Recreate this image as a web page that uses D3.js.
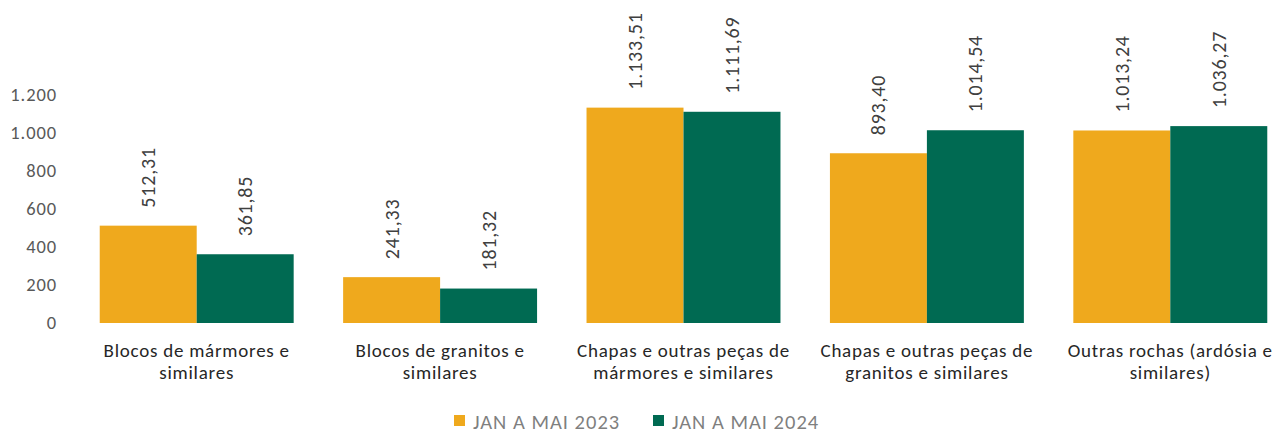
<!DOCTYPE html>
<html>
<head>
<meta charset="utf-8">
<script src="https://cdn.jsdelivr.net/npm/d3@7"></script>
<style>
body { margin: 0; background: #fff; }
text { font-family: Carlito, Lato, "Open Sans", sans-serif; }
</style>
</head>
<body>
<script>
var width = 1288, height = 433;

var categories = [
  "Blocos de mármores e\nsimilares",
  "Blocos de granitos e\nsimilares",
  "Chapas e outras peças de\nmármores e similares",
  "Chapas e outras peças de\ngranitos e similares",
  "Outras rochas (ardósia e\nsimilares)"
];
var seriesNames = ["JAN A MAI 2023", "JAN A MAI 2024"];
var values2023 = [512.31, 241.33, 1133.51, 893.40, 1013.24];
var values2024 = [361.85, 181.32, 1111.69, 1014.54, 1036.27];
var yTicks = [0, 200, 400, 600, 800, 1000, 1200];
var colors = ["#EFA91D", "#006A52"];

var ptBR = d3.formatLocale({decimal: ",", thousands: ".", grouping: [3], currency: ["R$", ""]});
var fmtTick = ptBR.format(",.0f");
var fmtVal = ptBR.format(",.2f");

var svg = d3.select("body").append("svg")
  .attr("width", width)
  .attr("height", height);

var x0 = d3.scaleBand().domain(categories).range([75, 1292]).paddingInner(0).paddingOuter(0);
var x1 = d3.scaleBand().domain(seriesNames).range([0, x0.bandwidth()]).paddingInner(0).paddingOuter(0.255);
var y = d3.scaleLinear().domain([0, 1200]).range([323, 95]);

// y axis (labels only)
var yAxis = svg.append("g")
  .attr("transform", "translate(57,0)")
  .call(d3.axisLeft(y).tickValues(yTicks).tickFormat(fmtTick).tickSize(0).tickPadding(0));
yAxis.select(".domain").remove();
yAxis.selectAll("text")
  .attr("fill", "#595959")
  .style("font-size", "18.5px")
  .style("letter-spacing", "0.9px")
  .style("font-family", "Carlito, Lato, sans-serif");

var data = categories.map(function(c, i) {
  return {cat: c, vals: [values2023[i], values2024[i]]};
});

var groups = svg.selectAll("g.grp")
  .data(data).enter()
  .append("g")
  .attr("class", "grp")
  .attr("transform", function(d) { return "translate(" + x0(d.cat) + ",0)"; });

groups.selectAll("rect")
  .data(function(d) { return d.vals.map(function(v, j) { return {s: seriesNames[j], v: v, j: j}; }); })
  .enter().append("rect")
  .attr("x", function(d) { return x1(d.s); })
  .attr("y", function(d) { return y(d.v); })
  .attr("width", x1.bandwidth())
  .attr("height", function(d) { return y(0) - y(d.v); })
  .attr("fill", function(d) { return colors[d.j]; });

groups.selectAll("text.val")
  .data(function(d) { return d.vals.map(function(v, j) { return {s: seriesNames[j], v: v}; }); })
  .enter().append("text")
  .attr("class", "val")
  .attr("transform", function(d) {
    return "translate(" + (x1(d.s) + x1.bandwidth() / 2) + "," + (y(d.v) - 18) + ")rotate(-90)";
  })
  .attr("dy", "0.35em")
  .attr("fill", "#404040")
  .style("font-size", "20px")
  .style("letter-spacing", "0.8px")
  .text(function(d) { return fmtVal(d.v); });

// category labels
var catLabels = svg.selectAll("text.cat")
  .data(categories).enter()
  .append("text")
  .attr("class", "cat")
  .attr("x", function(d) { return x0(d) + x0.bandwidth() / 2; })
  .attr("y", 357)
  .attr("text-anchor", "middle")
  .attr("fill", "#262626")
  .style("font-size", "19px")
  .style("letter-spacing", "0.75px");
catLabels.selectAll("tspan")
  .data(function(d) { return d.split("\n"); })
  .enter().append("tspan")
  .attr("x", function() { return d3.select(this.parentNode).attr("x"); })
  .attr("dy", function(d, i) { return i === 0 ? 0 : 22; })
  .text(function(d) { return d; });

// legend
var legendX = [454, 653];
var legend = svg.selectAll("g.leg")
  .data(seriesNames).enter()
  .append("g")
  .attr("class", "leg")
  .attr("transform", function(d, i) { return "translate(" + legendX[i] + ",415)"; });
legend.append("rect")
  .attr("width", 11).attr("height", 11)
  .attr("fill", function(d, i) { return colors[i]; });
legend.append("text")
  .attr("x", 19).attr("y", 13.5)
  .attr("fill", "#7F7F7F")
  .style("font-size", "20.5px")
  .style("letter-spacing", "1px")
  .text(function(d) { return d; });
</script>
</body>
</html>
